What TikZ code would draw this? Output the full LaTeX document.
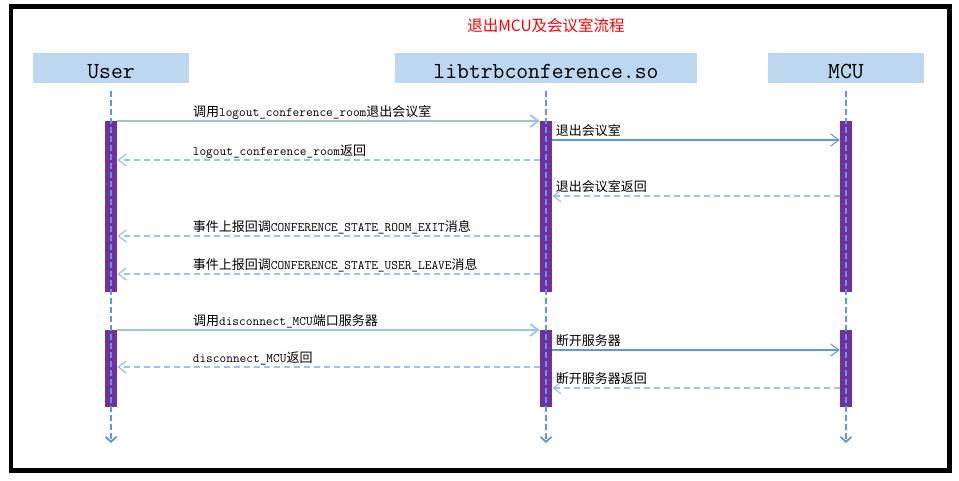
\documentclass[tikz,border=0pt]{standalone}
\usepackage{fontspec}
\newfontfamily\cjk{Noto Sans CJK SC}
\definecolor{HeadBlue}{HTML}{BDD7EE}
\definecolor{LineBlue}{HTML}{5B9BD5}
\definecolor{LiteBlue}{HTML}{9DC3E6}
\definecolor{BarPurple}{HTML}{7030A0}
\usetikzlibrary{positioning,arrows.meta}
\newcommand{\zh}[1]{{\cjk #1}}

\begin{document}
\begin{tikzpicture}[x=1pt,y=-1pt,
          head/.style={fill=HeadBlue,minimum width=156pt,
                       minimum height=30pt,inner sep=0pt,
                       text height=20pt,text depth=0pt,
                       font=\ttfamily\fontsize{23}{25}\selectfont},
          bar/.style={fill=BarPurple,minimum width=12pt,inner sep=0pt,
                      anchor=north},
          life/.style={LineBlue,line width=1.8pt,dash pattern=on 6pt off 3pt,
                       -{Straight Barb[length=5pt,width=11pt]}},
          call/.style={-{Straight Barb[length=8pt,width=12pt]},
                       LiteBlue,line width=1.8pt},
          fwd/.style={-{Straight Barb[length=8pt,width=12pt]},
                      LineBlue,line width=1.1pt},
          ret/.style={-{Straight Barb[length=8pt,width=12pt]},LiteBlue,
                      line width=1.3pt,dash pattern=on 6pt off 4pt},
          lbl/.style={anchor=base west,inner sep=0pt,yshift=5pt,text=black,
                      font=\ttfamily\fontsize{13}{15}\selectfont}]
        \useasboundingbox (0,0) rectangle (959,480);
        \draw[line width=4.5pt] (11,6.5) rectangle (949.5,470.5);
        \node[text=red,font=\cjk\fontsize{15.5}{18}\selectfont] (T) at (546,26)
            {退出MCU及会议室流程};
        % participants
        \node[head] (U) at (111,68) {User};
        \node[head,minimum width=302pt] (L) at (546,68) {libtrbconference.so};
        \node[head] (M) at (846,68) {MCU};
        \coordinate (t1) at (0,121);
        \coordinate (t2) at (0,330);
        \coordinate (end) at (0,443);
        \foreach \p in {U,L,M}{
          \node[bar,minimum height=171pt] (\p A) at (\p.south |- t1) {};
          \node[bar,minimum height=77pt] (\p B) at (\p.south |- t2) {};
          \draw[life] ([yshift=-8pt]\p.south) -- (\p.south |- end);
        }
        % message levels
        \foreach \n/\y in {1/121,2/140,3/160,4/196,5/236,6/274,
                           7/330,8/350,9/367,10/388}
          \coordinate (m\n) at (0,\y);
        \draw[call] (UA.east |- m1) -- (LA.west |- m1)
            node[lbl,pos=0,xshift=75pt]{\zh{调用}logout\_conference\_room\zh{退出会议室}};
        \draw[fwd] (LA.east |- m2) -- (MA.west |- m2)
            node[lbl,pos=0,xshift=3pt]{\zh{退出会议室}};
        \draw[ret] (LA.west |- m3) -- (UA.east |- m3)
            node[lbl,pos=1,xshift=75pt]{logout\_conference\_room\zh{返回}};
        \draw[ret] (MA.west |- m4) -- (LA.east |- m4)
            node[lbl,pos=1,xshift=3pt]{\zh{退出会议室返回}};
        \draw[ret] (LA.west |- m5) -- (UA.east |- m5)
            node[lbl,pos=1,xshift=75pt]{\zh{事件上报回调}CONFERENCE\_STATE\_ROOM\_EXIT\zh{消息}};
        \draw[ret] (LA.west |- m6) -- (UA.east |- m6)
            node[lbl,pos=1,xshift=75pt]{\zh{事件上报回调}CONFERENCE\_STATE\_USER\_LEAVE\zh{消息}};
        \draw[call] (UB.east |- m7) -- (LB.west |- m7)
            node[lbl,pos=0,xshift=75pt]{\zh{调用}disconnect\_MCU\zh{端口服务器}};
        \draw[fwd] (LB.east |- m8) -- (MB.west |- m8)
            node[lbl,pos=0,xshift=3pt]{\zh{断开服务器}};
        \draw[ret] (LB.west |- m9) -- (UB.east |- m9)
            node[lbl,pos=1,xshift=75pt]{disconnect\_MCU\zh{返回}};
        \draw[ret] (MB.west |- m10) -- (LB.east |- m10)
            node[lbl,pos=1,xshift=3pt]{\zh{断开服务器返回}};
      \end{tikzpicture}
\end{document}
